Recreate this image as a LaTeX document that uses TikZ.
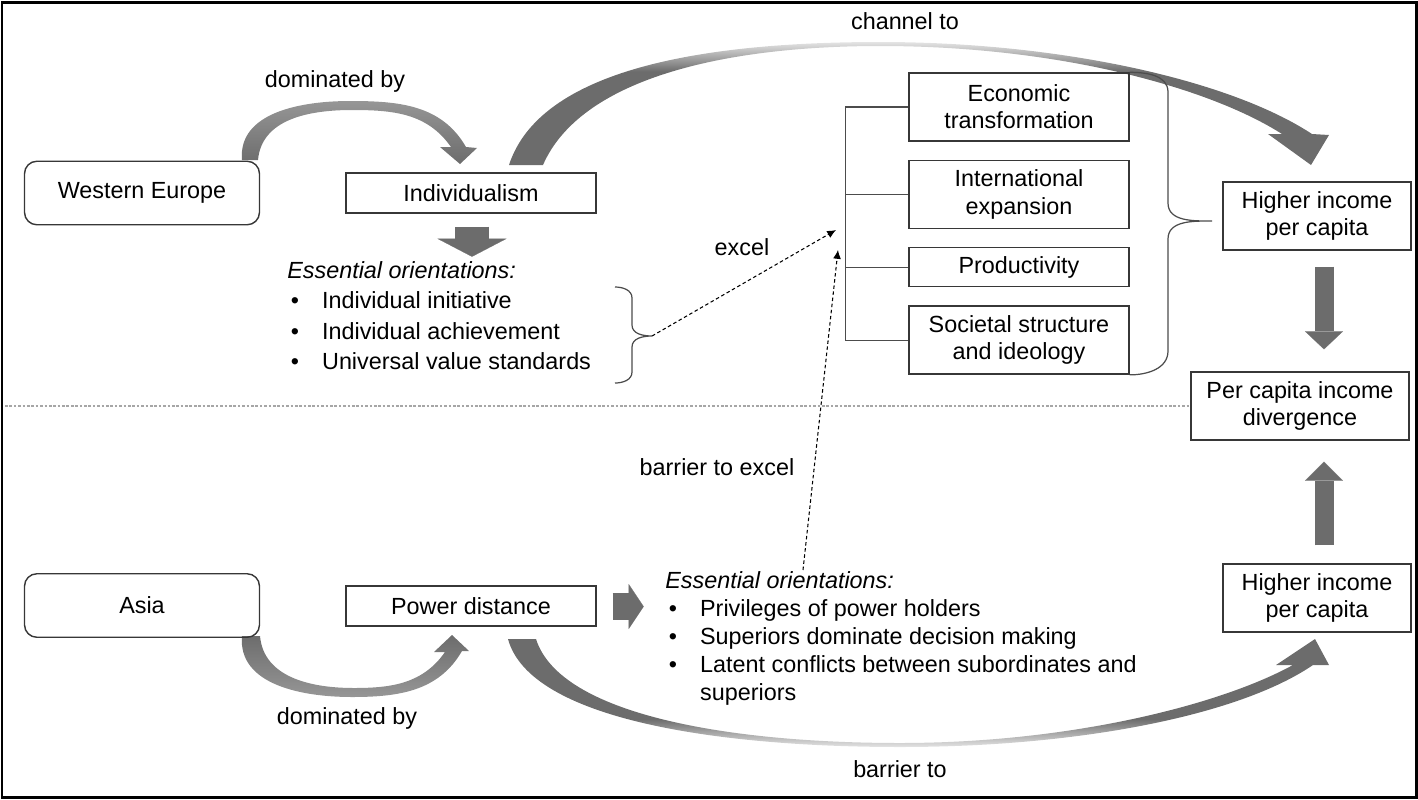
\documentclass[tikz,border=0pt]{standalone}
\usepackage{fontspec}
\setmainfont{Liberation Sans}
\usetikzlibrary{arrows.meta,positioning,calc}

\definecolor{arrowgray}{RGB}{108,108,108}
\definecolor{arclight}{RGB}{228,228,228}
\definecolor{domlight}{RGB}{150,150,150}
\definecolor{boxline}{RGB}{55,55,55}

% shadings for the curved arrows
\pgfdeclareverticalshading{archup}{100bp}{color(0bp)=(arrowgray); color(25bp)=(arrowgray); color(63bp)=(arrowgray); color(75bp)=(arclight); color(100bp)=(arclight)}
\pgfdeclareverticalshading{archdown}{100bp}{color(0bp)=(arclight); color(25bp)=(arclight); color(38bp)=(arrowgray); color(100bp)=(arrowgray)}
\pgfdeclareverticalshading{domup}{100bp}{color(0bp)=(arrowgray); color(25bp)=(arrowgray); color(75bp)=(domlight); color(100bp)=(domlight)}
\pgfdeclareverticalshading{domdown}{100bp}{color(0bp)=(domlight); color(25bp)=(domlight); color(75bp)=(arrowgray); color(100bp)=(arrowgray)}

\newcommand{\bitem}[1]{\makebox[19.8pt][l]{\hspace{2pt}\textbullet}#1}

\begin{document}
\begin{tikzpicture}[
  x=0.02cm, y=-0.02cm,
  font=\fontsize{13.3pt}{15.5pt}\selectfont,
  node distance=0.36cm,
  box/.style={draw=boxline,line width=0.8pt,inner sep=2pt,align=center,minimum height=1.36cm},
  rbox/.style={box,rounded corners=7pt,minimum width=4.7cm,minimum height=1.27cm},
  cult/.style={box,minimum width=5cm,minimum height=0.8cm},
  fac/.style={box,minimum width=4.4cm},
  list/.style={align=left,inner sep=0pt,anchor=north west},
  blk/.style n args={3}{line width=#1,draw=arrowgray,-{Triangle[width=#2,length=#3,line width=0.1pt]}},
  brc/.style={draw=black!70,line width=0.7pt},
  dsh/.style={line width=0.6pt,dash pattern=on 2pt off 1.5pt,-{Latex[length=5pt,width=4.5pt]}}
]
\useasboundingbox (0,0) rectangle (1418,799);
\draw[line width=1.7pt] (2,2) rectangle (1416,797);

% curved arrows
\shade[shading=domup] (242,160) to[out=95,in=180] (350,101) to[out=0,in=120] (466,147)
  -- (477,148) -- (460,164) -- (440,147) -- (451,147)
  to[out=125,in=0] (352,110) to[out=180,in=85] (258,160) -- cycle;
\shade[shading=archup] (509,165) .. controls (540,70) and (700,42) .. (880,42)
  .. controls (1060,42) and (1230,80) .. (1312,134)
  -- (1329,135) -- (1311,165) -- (1268,134) -- (1282,134)
  .. controls (1210,88) and (1060,46) .. (880,46)
  .. controls (720,46) and (580,80) .. (543,165) -- cycle;
\shade[shading=domdown] (242,636) to[out=-95,in=180] (352,697) to[out=0,in=-120] (462,651)
  -- (469,651) -- (452,635) -- (434,652) -- (445,652)
  to[out=-125,in=0] (354,688) to[out=180,in=-85] (260,636) -- cycle;
\shade[shading=archdown] (508,639) .. controls (530,720) and (720,747) .. (900,747)
  .. controls (1080,747) and (1240,715) .. (1313,665)
  -- (1329,665) -- (1315,639) -- (1276,665) -- (1293,665)
  .. controls (1220,705) and (1070,743) .. (900,743)
  .. controls (730,743) and (560,715) .. (536,639) -- cycle;

% left side
\node[rbox] (we) at (142,193) {Western Europe};
\node[cult] (ind) at (471,193) {Individualism};
\node[rbox] (asia) at (142,605.5) {Asia};
\node[cult] (pd) at (471,606) {Power distance};

\node[list,font=\fontsize{13.3pt}{17.3pt}\selectfont] (eo1) at (287,261)
  {\textit{Essential orientations:}\\ \bitem{Individual initiative}\\
   \bitem{Individual achievement}\\ \bitem{Universal value standards}};
\node[list,font=\fontsize{13.3pt}{15.9pt}\selectfont] (eo2) at (665,571)
  {\textit{Essential orientations:}\\ \bitem{Privileges of power holders}\\
   \bitem{Superiors dominate decision making}\\
   \bitem{Latent conflicts between subordinates and}\\ \hspace{19.8pt}superiors};

% factors
\node[fac] (eco) at (1019,107) {Economic\\transformation};
\node[fac,below=of eco] (intl) {International\\expansion};
\node[fac,below=of intl,minimum height=0.78cm] (prod) {Productivity};
\node[fac,below=of prod] (soc) {Societal structure\\and ideology};

% outcomes
\node[box,minimum width=3.76cm] (hi1) at (1317,216) {Higher income\\per capita};
\node[box,minimum width=4.36cm] (div) at (1300,406) {Per capita income\\divergence};
\node[box,minimum width=3.76cm] (hi2) at (1317,598) {Higher income\\per capita};

% labels
\node (dom1) at (335,81) {dominated by};
\node (chan) at (905,21) {channel to};
\node (exc) at (742,247) {excel};
\node (bexc) at (717,467) {barrier to excel};
\node (dom2) at (347,718) {dominated by};
\node (bar) at (900,769) {barrier to};

% block arrows
\draw[blk={0.7cm}{1.38cm}{0.36cm}] ($(ind.south)+(1,13)$) -- ($(ind.south)+(1,43)$);
\draw[blk={0.54cm}{0.9cm}{0.3cm}] ($(pd.east)+(16,0.5)$) -- ($(pd.east)+(47,0.5)$);
\draw[blk={0.38cm}{0.76cm}{0.36cm}] ($(hi1.south)+(7,16)$) -- ($(div.north)+(24,-22)$);
\draw[blk={0.38cm}{0.76cm}{0.38cm}] ($(hi2.north)+(7,-18)$) -- ($(div.south)+(24,21)$);

% brackets
\draw[brc,line width=0.6pt] (eco.west) -- ++(-63,0) |- (soc.west);
\draw[brc,line width=0.6pt] (intl.west) -- ++(-63,0);
\draw[brc,line width=0.6pt] (prod.west) -- ++(-63,0);
\draw[brc] (eco.north east) to[out=0,in=90] (1168,92) -- (1168,203)
  to[out=-90,in=180] (1212,221) coordinate (rbr)
  to[out=180,in=90] (1168,239) -- (1168,351) to[out=-90,in=0] (soc.south east);
\draw[brc] (615,287) to[out=0,in=90] (632,298) -- (632,325)
  to[out=-90,in=180] (652,336) coordinate (lbr)
  to[out=180,in=90] (632,347) -- (632,372) to[out=-90,in=0] (615,383);

% dashed links
\coordinate (etip) at (836,230);
\coordinate (btip) at (838,250);
\draw[dsh] (lbr) -- (etip);
\draw[dsh] ($(eo2.north west)+(138,-1)$) -- (btip);

% separator
\draw[gray!70,line width=0.6pt,dash pattern=on 1.5pt off 1pt] (5,406) -- (div.west);
\end{tikzpicture}
\end{document}
